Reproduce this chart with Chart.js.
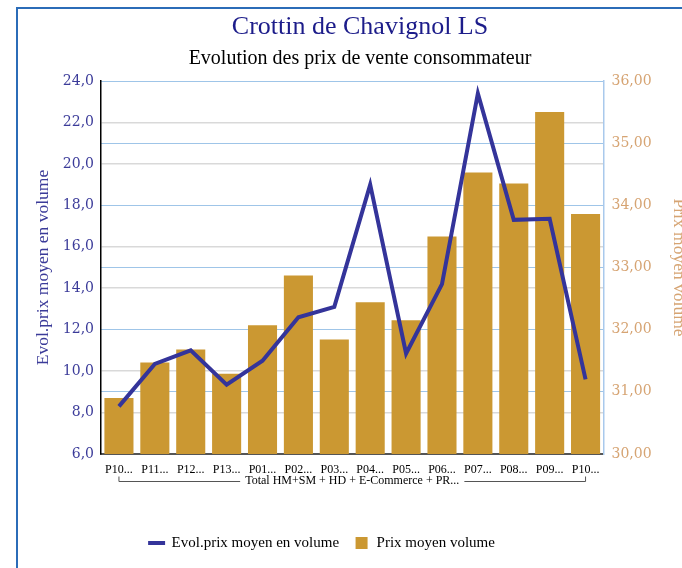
<!DOCTYPE html>
<html>
<head>
<meta charset="utf-8">
<script src="https://cdn.jsdelivr.net/npm/chart.js@4"></script>
<style>
  html, body { margin: 0; padding: 0; background: #fff; overflow: hidden; }
  #frame {
    position: absolute; left: 16px; top: 7px; width: 720px; height: 620px;
    border-top: 2px solid #2b6cb8; border-left: 2px solid #2b6cb8;
  }
  #chart { position: absolute; left: 0; top: 0; }
</style>
</head>
<body>
<div id="frame"></div>
<canvas id="chart" width="700" height="568"></canvas>
<script>
// categories (as shown, truncated) and the group they belong to
const periods = ['P10...', 'P11...', 'P12...', 'P13...', 'P01...', 'P02...', 'P03...',
                 'P04...', 'P05...', 'P06...', 'P07...', 'P08...', 'P09...', 'P10...'];
const groupLabel = 'Total HM+SM + HD + E-Commerce + PR...';

// series values
const evolPrix = [8.3, 10.35, 11.0, 9.35, 10.5, 12.6, 13.1, 19.0, 10.85, 14.2, 23.4, 17.3, 17.35, 9.6];
const prixMoyen = [30.9, 31.47, 31.68, 31.29, 32.07, 32.87, 31.84, 32.44, 32.15, 33.5, 34.53, 34.35, 35.5, 33.86];

// axis ranges
const leftMin = 6, leftMax = 24, leftStep = 2;
const rightMin = 30, rightMax = 36, rightStep = 1;

const serif = 'Liberation Serif';
const wideSerif = 'DejaVu Serif';

// left gridlines that fall on a right gridline are left to the right axis
function leftGridColor(ctx) {
  const v = ctx.tick ? ctx.tick.value : null;
  if (v === null) return '#d9d9d9';
  const r = (v - leftMin) / (leftMax - leftMin) * (rightMax - rightMin) / rightStep;
  return Math.abs(r - Math.round(r)) < 1e-6 ? 'rgba(0,0,0,0)' : '#d9d9d9';
}

// draws the bracket under the tick labels that groups all periods
const groupBracket = {
  id: 'groupBracket',
  afterDraw(chart) {
    const x = chart.scales.x;
    const ctx = chart.ctx;
    const n = periods.length;
    const x0 = x.getPixelForTick(0);
    const x1 = x.getPixelForTick(n - 1);
    const y = 481.5;
    ctx.save();
    ctx.font = '12px "' + serif + '"';
    const tw = ctx.measureText(groupLabel).width;
    const cx = (x.left + x.right) / 2;
    ctx.strokeStyle = '#555';
    ctx.lineWidth = 1;
    ctx.beginPath();
    ctx.moveTo(x0, y - 5);
    ctx.lineTo(x0, y);
    ctx.lineTo(cx - tw / 2 - 5, y);
    ctx.moveTo(cx + tw / 2 + 5, y);
    ctx.lineTo(x1, y);
    ctx.lineTo(x1, y - 5);
    ctx.stroke();
    ctx.restore();
  }
};

// the legend sits left of the canvas centre in the original
const shiftLegend = {
  id: 'shiftLegend',
  afterLayout(chart) {
    chart.legend.left -= 38;
    chart.legend.right -= 38;
  }
};

new Chart(document.getElementById('chart'), {
  type: 'bar',
  data: {
    labels: periods,
    datasets: [
      {
        type: 'line',
        label: 'Evol.prix moyen en volume',
        data: evolPrix,
        yAxisID: 'y',
        borderColor: '#34349a',
        backgroundColor: '#34349a',
        borderWidth: 4,
        pointRadius: 0,
        pointStyle: 'line',
        tension: 0
      },
      {
        label: 'Prix moyen volume',
        data: prixMoyen,
        yAxisID: 'y1',
        backgroundColor: '#cb9832',
        borderWidth: 0,
        pointStyle: 'rect',
        barPercentage: 0.81,
        categoryPercentage: 1
      }
    ]
  },
  options: {
    responsive: false,
    animation: false,
    devicePixelRatio: 1,
    layout: { padding: { left: 20, right: 0, top: 0, bottom: 7.5 } },
    plugins: {
      tooltip: { enabled: false },
      title: {
        display: true,
        text: 'Crottin de Chavignol LS',
        color: '#1c1c8a',
        font: { family: serif, size: 26, weight: 'normal' },
        padding: { top: 11.4, bottom: 0 }
      },
      subtitle: {
        display: true,
        text: 'Evolution des prix de vente consommateur',
        color: '#000',
        font: { family: serif, size: 20, weight: 'normal' },
        padding: { top: 4.4, bottom: 10 }
      },
      legend: {
        position: 'bottom',
        labels: {
          usePointStyle: true,
          boxHeight: 12,
          padding: 15,
          color: '#000',
          font: { family: serif, size: 15 }
        }
      }
    },
    scales: {
      x: {
        grid: { display: false },
        border: { display: true, color: '#555', width: 2 },
        ticks: {
          color: '#000',
          font: { family: serif, size: 12 },
          padding: 1,
          maxRotation: 0,
          autoSkip: false
        },
        title: {
          display: true,
          text: groupLabel,
          color: '#000',
          font: { family: serif, size: 12 },
          padding: { top: 0, bottom: 32.5 }
        },
        afterFit(scale) { scale.height = 66.5; }
      },
      y: {
        position: 'left',
        min: leftMin,
        max: leftMax,
        grid: { color: leftGridColor, lineWidth: 1.5, drawTicks: false },
        border: { display: true, color: '#000', width: 1.5 },
        ticks: {
          stepSize: leftStep,
          color: '#3b3b99',
          padding: 7,
          font: { family: wideSerif, size: 14 },
          callback: v => v.toFixed(1).replace('.', ',')
        },
        title: {
          display: true,
          text: 'Evol.prix moyen en volume',
          color: '#3b3b99',
          font: { family: serif, size: 17.5 },
          padding: { top: 12.5 }
        },
        afterFit(scale) { scale.width = 81; }
      },
      y1: {
        position: 'right',
        min: rightMin,
        max: rightMax,
        grid: { color: '#9fc5e8', lineWidth: 1, borderDash: [2, 2], drawTicks: false },
        border: { display: true, color: '#a9c9ec', width: 1.5 },
        ticks: {
          stepSize: rightStep,
          color: '#d6a473',
          padding: 8,
          font: { family: wideSerif, size: 14 },
          callback: v => v.toFixed(2).replace('.', ',')
        },
        title: {
          display: true,
          text: 'Prix moyen volume',
          color: '#d6a473',
          font: { family: serif, size: 17.5 },
          padding: { top: 10.5 }
        },
        afterFit(scale) { scale.width = 96.5; }
      }
    }
  },
  plugins: [groupBracket, shiftLegend]
});
</script>
</body>
</html>
